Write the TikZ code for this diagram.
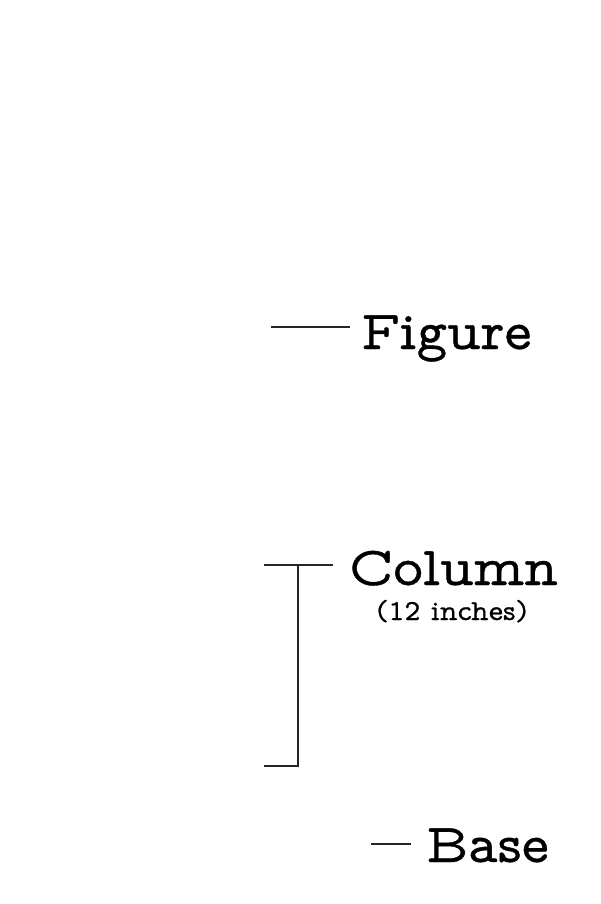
\documentclass[tikz,border=0pt]{standalone}
\usepackage{fontspec}
\newfontfamily\labfont[FakeBold=0.7,FakeStretch=1.05]{Latin Modern Mono Prop}
\begin{document}
\begin{tikzpicture}[x=1pt,y=-1pt,
  lab/.style={anchor=base west,inner sep=0pt,font=\labfont\fontsize{55}{60}\selectfont},
  sublab/.style={anchor=base,inner sep=0pt,font=\labfont\fontsize{29}{32}\selectfont},
  rule/.style={line width=2.2pt,line cap=butt,black!85}]
\useasboundingbox (0,0) rectangle (600,904);
\node[lab] (fig) at (361,349) {Figure};
\coordinate (figL) at (271,327);
\draw[rule] (figL) -- (figL -| 350,0);
\node[lab] (col) at (349,585) {Column};
\node[sublab] (inch) at (452,620) {(12 inches)};
\coordinate (cT) at (264,565);
\coordinate (cTR) at (333,565);
\coordinate (cV) at (298,565);
\coordinate (cB) at (298,766);
\coordinate (cBL) at (264,766);
\draw[rule] (cT) -- (cTR);
\draw[rule,line join=miter] (cV) -- (cB) -- (cBL);
\node[lab] (base) at (426,862) {Base};
\coordinate (bL) at (371,844);
\coordinate (bR) at (411,844);
\draw[rule] (bL) -- (bR);
\end{tikzpicture}
\end{document}
